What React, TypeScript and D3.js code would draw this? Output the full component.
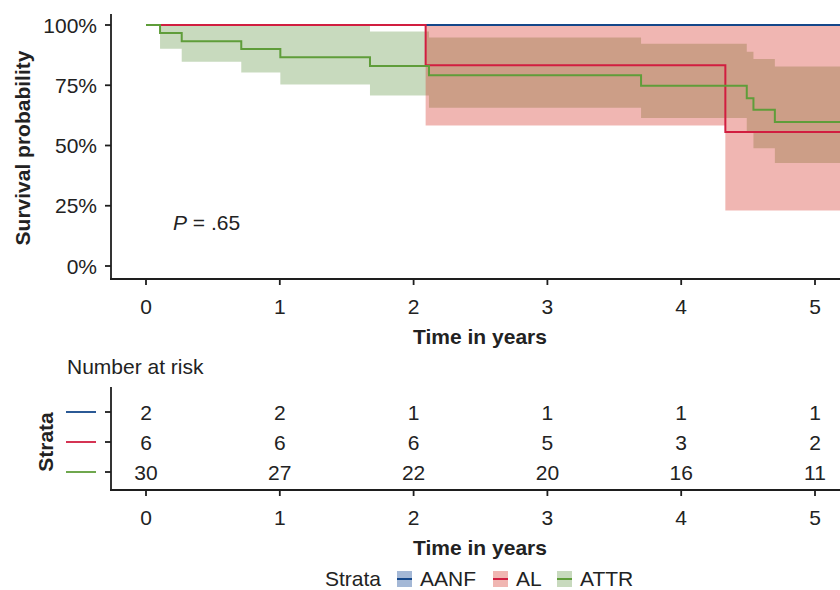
import React from "react";
import * as d3 from "d3";

const strata = ["AANF", "AL", "ATTR"];
const lineColors = ["#14478A", "#D11E40", "#5F9D3A"];
const fillColors = ["#3A63A8", "#D42E23", "#629545"];
const keyFills = ["#A4B8D6", "#F0B6B2", "#C8DABE"];

const aanfTime = [0, 5.3];
const aanfSurv = [1, 1];
const aanfLower = [1, 1];
const aanfUpper = [1, 1];

const alTime = [0, 2.09, 4.33, 5.3];
const alSurv = [1, 0.833, 0.556, 0.556];
const alLower = [1, 0.583, 0.23, 0.23];
const alUpper = [1, 1, 1, 1];

const attrTime = [0, 0.105, 0.267, 0.712, 1.004, 1.674, 2.115, 3.7, 4.49, 4.54, 4.7, 5.3];
const attrSurv = [1, 0.967, 0.933, 0.9, 0.866, 0.83, 0.792, 0.748, 0.696, 0.648, 0.597, 0.597];
const attrLower = [1, 0.901, 0.848, 0.803, 0.753, 0.707, 0.657, 0.614, 0.558, 0.489, 0.427, 0.427];
const attrUpper = [1, 1, 1, 1, 1, 0.973, 0.948, 0.922, 0.889, 0.859, 0.828, 0.828];

const xTicks = [0, 1, 2, 3, 4, 5];
const yTicks = [0, 0.25, 0.5, 0.75, 1];
const riskAANF = [2, 2, 1, 1, 1, 1];
const riskAL = [6, 6, 6, 5, 3, 2];
const riskATTR = [30, 27, 22, 20, 16, 11];
const pText = ".65";

type Pt = { t: number; s: number; lo: number; hi: number };
function zip(t: number[], s: number[], lo: number[], hi: number[]): Pt[] {
  return t.map((v, i) => ({ t: v, s: s[i], lo: lo[i], hi: hi[i] }));
}

const series = [
  zip(aanfTime, aanfSurv, aanfLower, aanfUpper),
  zip(alTime, alSurv, alLower, alUpper),
  zip(attrTime, attrSurv, attrLower, attrUpper),
];
const risks = [riskAANF, riskAL, riskATTR];

const FONT = "'Liberation Sans', Arial, Helvetica, sans-serif";
const TXT = "#222";
const AX = "#1e1e1e";

export default function App() {
  const x = d3.scaleLinear().domain([0, 5]).range([146, 815]);
  const y = d3.scaleLinear().domain([0, 1]).range([266, 25]);
  const rowY = d3.scalePoint<string>().domain(strata).range([412, 472]);

  const area = d3
    .area<Pt>()
    .x((d) => x(d.t))
    .y0((d) => y(d.lo))
    .y1((d) => y(d.hi))
    .curve(d3.curveStepAfter);
  const line = d3
    .line<Pt>()
    .x((d) => x(d.t))
    .y((d) => y(d.s))
    .curve(d3.curveStepAfter);

  const ribbonOrder = [0, 2, 1];
  const fs = 21;

  return (
    <svg
      width={840}
      height={590}
      style={{ position: "absolute", left: 0, top: 0, background: "#fff" }}
      fontFamily={FONT}
    >
      {/* ribbons */}
      {ribbonOrder.map((i) => (
        <path key={"r" + i} d={area(series[i]) || ""} fill={fillColors[i]} fillOpacity={0.35} stroke="none" />
      ))}
      {/* lines */}
      {series.map((s, i) => (
        <path key={"l" + i} d={line(s) || ""} fill="none" stroke={lineColors[i]} strokeWidth={2} />
      ))}

      {/* main axes */}
      <line x1={111} x2={111} y1={14} y2={280} stroke={AX} strokeWidth={1.8} />
      <line x1={110} x2={840} y1={279} y2={279} stroke={AX} strokeWidth={1.8} />
      {yTicks.map((v) => (
        <g key={"yt" + v}>
          <line x1={105} x2={111} y1={y(v)} y2={y(v)} stroke={AX} strokeWidth={1.8} />
          <text x={97} y={y(v)} dy="0.36em" textAnchor="end" fontSize={fs} fill={TXT}>
            {d3.format(".0%")(v)}
          </text>
        </g>
      ))}
      {xTicks.map((v) => (
        <g key={"xt" + v}>
          <line x1={x(v)} x2={x(v)} y1={279} y2={285} stroke={AX} strokeWidth={1.8} />
          <text x={x(v)} y={314} textAnchor="middle" fontSize={fs} fill={TXT}>
            {v}
          </text>
        </g>
      ))}
      <text x={480} y={344} textAnchor="middle" fontSize={fs} fontWeight="bold" fill={TXT}>
        Time in years
      </text>
      <text
        transform="translate(30,148) rotate(-90)"
        textAnchor="middle"
        fontSize={fs}
        fontWeight="bold"
        fill={TXT}
      >
        Survival probability
      </text>
      <text x={173} y={230} fontSize={fs} fill={TXT}>
        <tspan fontStyle="italic">P</tspan>
        <tspan> = {pText}</tspan>
      </text>

      {/* risk table */}
      <text x={67} y={374} fontSize={fs} fill={TXT}>
        Number at risk
      </text>
      <line x1={111} x2={111} y1={387} y2={491} stroke={AX} strokeWidth={1.8} />
      <line x1={110} x2={840} y1={490} y2={490} stroke={AX} strokeWidth={1.8} />
      {strata.map((s, i) => (
        <g key={"row" + s}>
          <line x1={66} x2={96} y1={rowY(s)} y2={rowY(s)} stroke={lineColors[i]} strokeWidth={1.8} />
          <line x1={105} x2={111} y1={rowY(s)} y2={rowY(s)} stroke={AX} strokeWidth={1.8} />
          {risks[i].map((n, j) => (
            <text
              key={j}
              x={x(xTicks[j])}
              y={rowY(s)}
              dy="0.36em"
              textAnchor="middle"
              fontSize={fs}
              fill={TXT}
            >
              {n}
            </text>
          ))}
        </g>
      ))}
      <text
        transform="translate(53,442) rotate(-90)"
        textAnchor="middle"
        fontSize={fs}
        fontWeight="bold"
        fill={TXT}
      >
        Strata
      </text>
      {xTicks.map((v) => (
        <g key={"xt2" + v}>
          <line x1={x(v)} x2={x(v)} y1={490} y2={496} stroke={AX} strokeWidth={1.8} />
          <text x={x(v)} y={525} textAnchor="middle" fontSize={fs} fill={TXT}>
            {v}
          </text>
        </g>
      ))}
      <text x={480} y={555} textAnchor="middle" fontSize={fs} fontWeight="bold" fill={TXT}>
        Time in years
      </text>

      {/* legend */}
      <text x={325} y={586} fontSize={fs} fill={TXT}>
        Strata
      </text>
      {strata.map((s, i) => {
        const kx = [397, 493, 557][i];
        return (
          <g key={"lg" + s}>
            <rect x={kx} y={571} width={15} height={16} fill={keyFills[i]} />
            <line x1={kx} x2={kx + 15} y1={579} y2={579} stroke={lineColors[i]} strokeWidth={2} />
            <text x={kx + 23} y={586} fontSize={fs} fill={TXT}>
              {s}
            </text>
          </g>
        );
      })}
    </svg>
  );
}
